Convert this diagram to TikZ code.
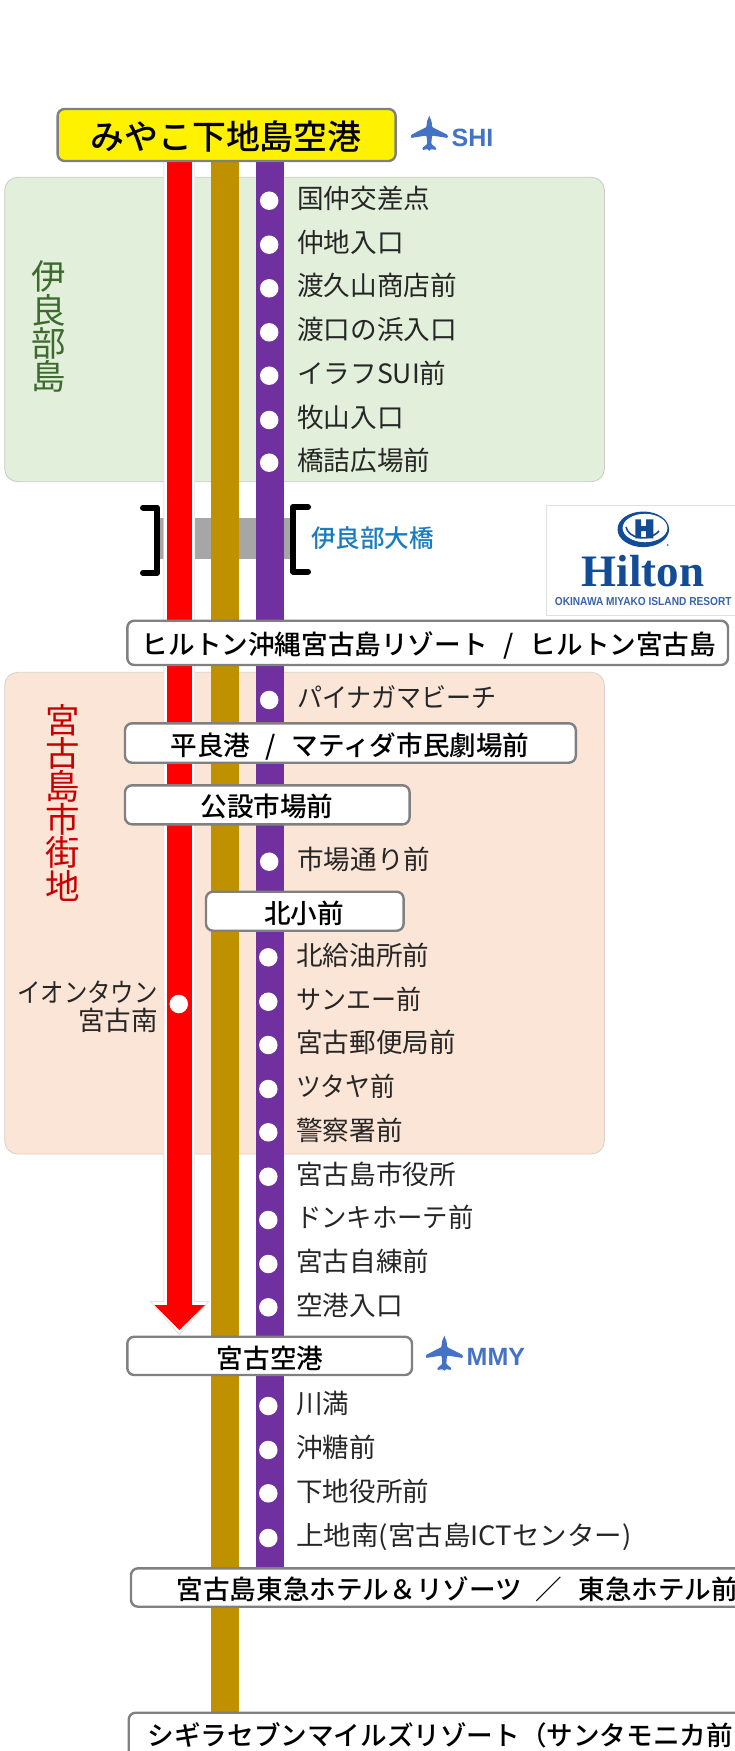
\documentclass[tikz,border=0pt]{standalone}
\usepackage{fontspec}
\usepackage{graphicx}
\setmainfont{Noto Sans CJK JP}
\newfontfamily\jpmed{Noto Sans CJK JP Medium}
\newfontfamily\latinbold{Liberation Sans}[Scale=1]
\newfontfamily\hiltonserif{Liberation Serif}
\definecolor{regiongreen}{HTML}{E2EFDA}
\definecolor{regionorange}{HTML}{FBE5D6}
\definecolor{regionedge}{HTML}{C8CCC4}
\definecolor{linered}{HTML}{FF0000}
\definecolor{linegold}{HTML}{BF9000}
\definecolor{linepurple}{HTML}{7030A0}
\definecolor{boxedge}{HTML}{808080}
\definecolor{bridgegrey}{HTML}{A6A6A6}
\definecolor{planeblue}{HTML}{4472C4}
\definecolor{hiltonblue}{HTML}{124C96}
\definecolor{hiltonsoft}{HTML}{3A64A6}
\definecolor{bridgeblue}{HTML}{1B7CBF}
\definecolor{islandgreen}{HTML}{3D6B2E}
\definecolor{cityred}{HTML}{C80000}
\newcommand{\jpsize}{\fontsize{26.6}{30}\selectfont}
\newcommand{\sqz}[2]{\scalebox{#1}[1]{#2}}
\tikzset{
  x=1pt,y=-1pt,
  region/.style={rounded corners=13pt,line width=.8pt},
  routeline/.style={line cap=butt},
  casing/.style={fill=white,draw=black!12,line width=.8pt},
  stopdot/.style={circle,fill=white,draw=none,minimum size=18.5pt,inner sep=0pt},
  stoplabel/.style={anchor=west,inner sep=0pt,text height=23.4pt,text depth=3.2pt,font=\jpsize,text=black!85},
  stationbox/.style={draw=boxedge,fill=white,line width=2.4pt,rounded corners=7pt},
  stationtext/.style={inner sep=0pt,text height=23.4pt,text depth=3.2pt,font=\jpsize\jpmed,text=black},
  bracket/.style={line width=6pt,line cap=round,line join=round,draw=black},
  vlabel/.style={inner sep=0pt,align=center,font=\fontsize{34.5}{33.2}\selectfont},
  planeicon/.pic={
    \fill[planeblue,rounded corners=1pt] (0,-17.5) .. controls (1.8,-15) and (2.6,-12) .. (2.7,-7)
      -- (18.5,1) -- (18.5,4) -- (2.7,1.5) -- (2,10) -- (7,14) -- (7,16) -- (1.2,15) -- (0,17.5)
      -- (-1.2,15) -- (-7,16) -- (-7,14) -- (-2,10) -- (-2.7,1.5) -- (-18.5,4) -- (-18.5,1) -- (-2.7,-7)
      .. controls (-2.6,-12) and (-1.8,-15) .. (0,-17.5) -- cycle;
  },
  planecode/.style={anchor=west,inner sep=0pt,font=\fontsize{25}{25}\selectfont\latinbold\bfseries,text=planeblue},
}
\begin{document}
\begin{tikzpicture}
\useasboundingbox (0,0) rectangle (734,1751);
\fill[white] (0,0) rectangle (734,1751);

% regions
\draw[region,fill=regiongreen,draw=regionedge] (4.7,177.3) rectangle (604.4,481.7);
\draw[region,fill=regionorange,draw=regionedge!70!regionorange] (4.7,672.3) rectangle (604.4,1154);
\node[vlabel,text=islandgreen] (iraburegion) at (49,326.7) {伊\\良\\部\\島};
\node[vlabel,text=cityred] (cityregion) at (63,802.5) {宮\\古\\島\\市\\街\\地};

% bridge band
\fill[bridgegrey] (159,518.3) rectangle (290,559);

% red route with its white edge and arrowhead
\coordinate (redtop) at (179.3,161);
\coordinate (redend) at (179.3,1305);
\coordinate (redtip) at (179.3,1330);
\filldraw[casing] (163.8,161) -- (163.8,1301.5) -- (150.5,1301.5) -- (179.3,1334.5) -- (208.5,1301.5) -- (194.8,1301.5) -- (194.8,161);
\draw[linered,line width=25.3pt,routeline] (redtop) -- (redend);
\fill[linered] (154.5,1305) -- (205,1305) -- (redtip) -- cycle;

% gold and purple routes
\coordinate (goldtop) at (224.7,161);
\coordinate (goldend) at (224.7,1714);
\coordinate (purpletop) at (270.1,161);
\coordinate (purpleend) at (270.1,1569);
\draw[linegold,line width=28.1pt,routeline] (goldtop) -- (goldend);
\draw[linepurple,line width=28.2pt,routeline] (purpletop) -- (purpleend);

% brackets
\draw[bracket] (143,507.5) -- (157,507.5) -- (157,573) -- (143,573);
\draw[bracket] (308,507) -- (293,507) -- (293,571.5) -- (308,571.5);
\node[inner sep=0pt,font=\fontsize{24.6}{28}\selectfont\jpmed,text=bridgeblue] (bridge) at (372.5,538) {伊良部大橋};

% stops, upper group
\foreach \n/\y/\t in {a1/200.7/{国仲交差点},a2/244.7/{仲地入口},a3/288.3/{渡久山商店前},a4/332.3/{渡口の浜入口},a5/375.7/{イラフSUI前},a6/420/{牧山入口},a7/462.7/{橋詰広場前},b1/700/{\sqz{.94}{パイナガマビーチ}},b2/861.7/{市場通り前}}{
  \node[stopdot] (\n) at (269.2,\y) {};
  \node[stoplabel] (\n t) at (297,\y-2.5) {\t};
}
% stops, lower group
\foreach \n/\y/\t in {c1/957.3/{北給油所前},c2/1001.7/{\sqz{.94}{サンエー前}},c3/1045/{宮古郵便局前},c4/1089/{\sqz{.93}{ツタヤ前}},c5/1132.3/{警察署前},c6/1176.7/{宮古島市役所},c7/1220/{\sqz{.953}{ドンキホーテ前}},c8/1264/{宮古自練前},c9/1307.3/{空港入口},d1/1406/{川満},d2/1450/{沖糖前},d3/1493.3/{下地役所前},d4/1538/{\sqz{1.034}{上地南(宮古島ICTセンター)}}}{
  \node[stopdot] (\n) at (268.3,\y) {};
  \node[stoplabel] (\n t) at (296,\y-2.3) {\t};
}
\node[stopdot] (aeon) at (178.8,1004) {};
\node[inner sep=0pt,anchor=east,align=right,font=\fontsize{26.6}{27.6}\selectfont,text=black!85] (aeont) at (158,1007) {\sqz{.88}{イオンタウン}\\宮古南};

% station boxes
\draw[stationbox,fill=yellow] (57.6,109) rectangle (395.6,161);
\node[inner sep=0pt,text height=29.8pt,text depth=4.1pt,font=\fontsize{33.9}{36}\selectfont\jpmed] (shimojijima) at (226,136.7) {みやこ下地島空港};
\pic at (429.3,134) {planeicon};
\node[planecode] (shi) at (451.5,137.5) {SHI};

\draw[stationbox] (127.3,620.7) rectangle (728,665);
\node[stationtext] (hilton) at (429,644) {ヒルトン沖縄宮古島リゾート\hspace{16pt}/\hspace{16pt}ヒルトン宮古島};

\draw[stationbox] (125,723.3) rectangle (575.8,762.7);
\node[stationtext] (hirara) at (350,745) {平良港\hspace{15.5pt}/\hspace{15.5pt}マティダ市民劇場前};

\draw[stationbox] (125,785.3) rectangle (409.6,824.3);
\node[stationtext] (kosetsu) at (267,806.7) {公設市場前};

\draw[stationbox] (206,891.7) rectangle (403.6,930.7);
\node[stationtext] (kitasho) at (304,913) {北小前};

\draw[stationbox] (127.3,1336.7) rectangle (412,1375);
\node[stationtext] (miyakoap) at (270,1358) {宮古空港};
\pic at (444.3,1354) {planeicon};
\node[planecode] (mmy) at (466.5,1357) {MMY};

\draw[stationbox] (131,1568.3) rectangle (770,1606.7);
\node[stationtext,anchor=west] (tokyu) at (176.5,1589) {宮古島東急ホテル＆リゾーツ\hspace{14pt}／\hspace{16pt}東急ホテル前};

\draw[stationbox] (128.7,1712.7) rectangle (770,1775);
\node[stationtext,anchor=west] (sugira) at (147.5,1735) {シギラセブンマイルズリゾート（サンタモニカ前};

% Hilton logo panel
\draw[fill=white,draw=black!12,line width=.8pt] (546.3,505) rectangle (740,615);
\fill[hiltonblue,even odd rule] (643.3,529.3) ellipse (25.8 and 17.8) (645,528) ellipse (22.5 and 14.3);
\fill[hiltonblue] (635.3,519.3) rectangle (641,538.3) (646,519.3) rectangle (653.3,538.3) (641,526) rectangle (646,531);
\draw[hiltonblue,line width=1.6pt] (626,527) .. controls (628,538) and (648,543) .. (659,531);
\fill[hiltonblue] (667.7,545) circle (.9);
\node[inner sep=0pt,font=\fontsize{45}{45}\selectfont\hiltonserif\bfseries,text=hiltonblue] (hiltonname) at (643,571) {Hilton};
\node[inner sep=0pt,font=\fontsize{11.6}{12}\selectfont\latinbold\bfseries,text=hiltonsoft] (hiltonsub) at (643.2,601) {\sqz{.875}{OKINAWA MIYAKO ISLAND RESORT}};
\end{tikzpicture}
\end{document}
